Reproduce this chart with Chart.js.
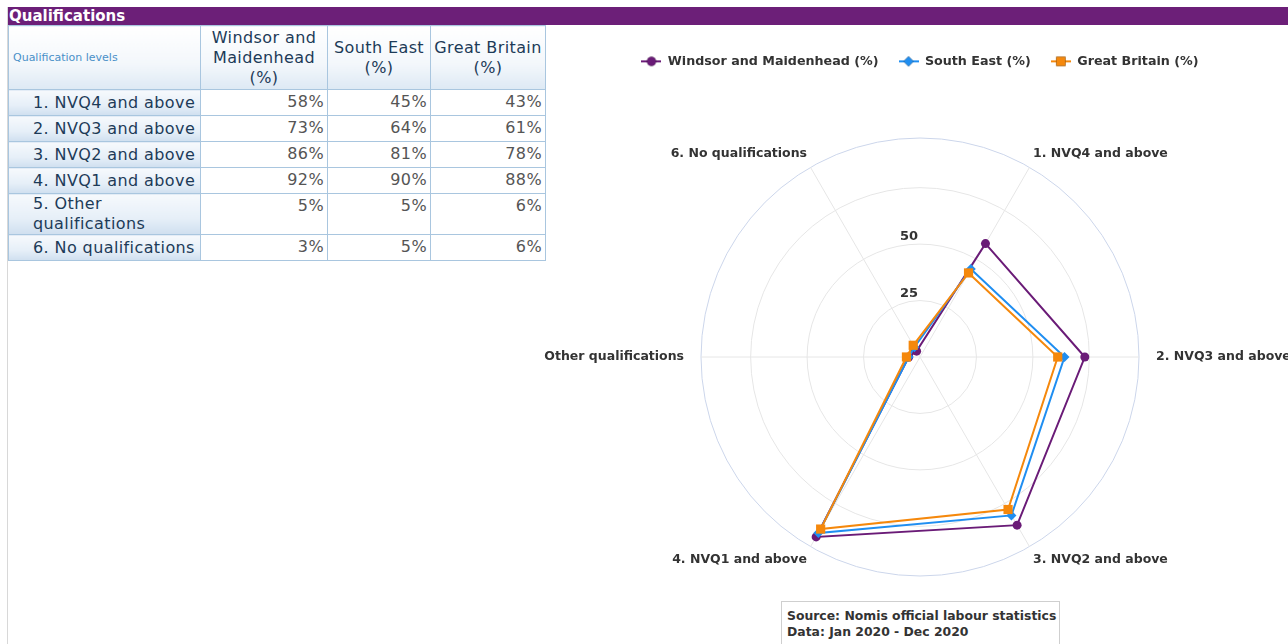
<!DOCTYPE html>
<html lang="en">
<head>
    <meta charset="UTF-8">
    <title>Qualifications</title>
    <script src="https://cdn.jsdelivr.net/npm/chart.js@4/dist/chart.umd.min.js"></script>
    <style>
        html, body { margin: 0; padding: 0; background: #fff; overflow: hidden; width: 1288px; height: 644px; }
        body { font-family: "DejaVu Sans", Verdana, sans-serif; position: relative; }

        .panel { position: absolute; left: 7px; top: 7px; width: 1281px; height: 660px; border-left: 1px solid #d8d8d8; }
        .bar {
            position: absolute; left: 8px; top: 7px; width: 1280px; height: 18px;
            background: #6c1f78; color: #fff; font-weight: bold; font-size: 15px; line-height: 18px;
            padding-left: 1px; box-sizing: border-box;
        }

        table.quals {
            position: absolute; left: 8px; top: 25px; border-collapse: collapse;
            font-size: 16px; table-layout: fixed; letter-spacing: 0.4px;
        }
        table.quals th, table.quals td { border: 1px solid #a9c6df; padding: 0; }
        table.quals thead th {
            height: 63px; font-weight: normal; color: #1d3b58; line-height: 20px;
            background: linear-gradient(#ffffff, #f3f7fb 60%, #dde9f4);
        }
        table.quals thead th.first { text-align: left; font-size: 11px; color: #4a90c8; padding-left: 4px; letter-spacing: 0; }
        table.quals tbody th {
            text-align: left; font-weight: normal; color: #1d3b58; padding-left: 24px; line-height: 20px;
            background: linear-gradient(#f6f9fc, #e6eff8 60%, #cfdfef);
            vertical-align: middle;
        }
        table.quals tbody td {
            text-align: right; color: #555; padding-right: 3px; vertical-align: top; padding-top: 2px;
            height: 23px;
        }
        table.quals tbody tr.tall th, table.quals tbody tr.tall td { height: 38px; }

        .chart-box { position: absolute; left: 540px; top: 30px; width: 760px; height: 570px; }

        .credits {
            position: absolute; left: 781px; top: 601px; width: 279px; height: 50px;
            border: 1px solid #cfcfcf; box-sizing: border-box; padding: 6px 0 0 5px; white-space: nowrap;
            font-weight: bold; font-size: 12.4px; line-height: 16px; color: #333;
        }
    </style>
</head>
<body>
    <div class="panel"></div>
    <div class="bar">Qualifications</div>

    <table class="quals" id="quals">
        <colgroup>
            <col style="width:192px"><col style="width:127px"><col style="width:103px"><col style="width:115px">
        </colgroup>
        <thead><tr id="quals-head"></tr></thead>
        <tbody id="quals-body"></tbody>
    </table>

    <div class="chart-box">
        <canvas id="qual-radar"></canvas>
    </div>

    <div class="credits">Source: Nomis official labour statistics<br>Data: Jan 2020 - Dec 2020</div>

    <script>
        // Qualification levels (table rows and radar axes)
        const tableLevels = ['1. NVQ4 and above', '2. NVQ3 and above', '3. NVQ2 and above',
            '4. NVQ1 and above', '5. Other qualifications', '6. No qualifications'];
        const radarLevels = ['1. NVQ4 and above', '2. NVQ3 and above', '3. NVQ2 and above',
            '4. NVQ1 and above', 'Other qualifications', '6. No qualifications'];

        const seriesNames = ['Windsor and Maidenhead (%)', 'South East (%)', 'Great Britain (%)'];
        const windsorValues = [58, 73, 86, 92, 5, 3];
        const southEastValues = [45, 64, 81, 90, 5, 5];
        const greatBritainValues = [43, 61, 78, 88, 6, 6];

        const seriesColors = ['#6a1b77', '#1f8ef1', '#f5880c'];
        const seriesMarkers = ['circle', 'rectRot', 'rect'];
        const markerSizes = [4.5, 5, 6.5];

        // radial axis: rings every 25, outer edge just past the largest value
        const radialTicks = [0, 25, 50];
        const axisMax = 97;

        // ---- table ----
        const headCells = ['Qualification levels', 'Windsor and<br>Maidenhead<br>(%)', 'South East<br>(%)', 'Great Britain<br>(%)'];
        const headRow = document.getElementById('quals-head');
        headCells.forEach((txt, i) => {
            const th = document.createElement('th');
            th.innerHTML = txt;
            if (i === 0) th.className = 'first';
            headRow.appendChild(th);
        });

        const allValues = [windsorValues, southEastValues, greatBritainValues];
        const body = document.getElementById('quals-body');
        tableLevels.forEach((lvl, r) => {
            const tr = document.createElement('tr');
            if (r === 4) tr.className = 'tall';
            const th = document.createElement('th');
            th.textContent = lvl;
            tr.appendChild(th);
            allValues.forEach(vals => {
                const td = document.createElement('td');
                td.textContent = vals[r] + '%';
                tr.appendChild(td);
            });
            body.appendChild(tr);
        });

        // ---- radar ----
        // small line+marker swatch used in the legend
        function legendSymbol(color, marker, size) {
            const c = document.createElement('canvas');
            c.width = 20; c.height = 14;
            const g = c.getContext('2d');
            g.strokeStyle = color; g.lineWidth = 2;
            g.beginPath(); g.moveTo(0, 7); g.lineTo(20, 7); g.stroke();
            Chart.helpers.drawPoint(g, { pointStyle: marker, radius: size, rotation: 0, borderWidth: 0 }, 10, 7);
            g.fillStyle = color;
            g.fill();
            return c;
        }

        // value labels up the vertical, kept upright
        const tickLabelPlugin = {
            id: 'radialTickLabels',
            beforeDatasetsDraw(chart) {
                const scale = chart.scales.r;
                const ctx = chart.ctx;
                ctx.save();
                ctx.font = 'bold 13px "DejaVu Sans"';
                ctx.fillStyle = '#333';
                ctx.textAlign = 'right';
                ctx.textBaseline = 'alphabetic';
                radialTicks.forEach(v => {
                    const d = scale.getDistanceFromCenterForValue(v);
                    ctx.fillText(String(v), scale.xCenter - 2, scale.yCenter - d - 4);
                });
                ctx.restore();
            }
        };

        const legendHeight = {
            id: 'legendHeight',
            beforeInit(chart) {
                const fit = chart.legend.fit;
                chart.legend.fit = function () {
                    fit.bind(chart.legend)();
                    this.height = 103;
                };
            }
        };

        const datasets = allValues.map((vals, i) => ({
            label: seriesNames[i],
            data: vals,
            borderColor: seriesColors[i],
            backgroundColor: seriesColors[i],
            pointBackgroundColor: seriesColors[i],
            pointBorderColor: seriesColors[i],
            pointBorderWidth: 0,
            pointStyle: seriesMarkers[i],
            pointRadius: markerSizes[i],
            borderWidth: 2,
            fill: false,
            order: 3 - i
        }));

        new Chart(document.getElementById('qual-radar'), {
            type: 'radar',
            data: { labels: radarLevels, datasets: datasets },
            options: {
                responsive: true,
                maintainAspectRatio: false,
                animation: false,
                layout: { padding: { top: 5, bottom: 24, left: 0, right: 0 } },
                plugins: {
                    tooltip: { enabled: false },
                    legend: {
                        position: 'top',
                        labels: {
                            usePointStyle: true,
                            pointStyleWidth: 20,
                            padding: 20,
                            color: '#333',
                            font: { family: '"DejaVu Sans"', size: 12.7, weight: 'bold' },
                            generateLabels(chart) {
                                return chart.data.datasets.map((ds, i) => ({
                                    text: ds.label,
                                    datasetIndex: i,
                                    pointStyle: legendSymbol(seriesColors[i], seriesMarkers[i], markerSizes[i]),
                                    fillStyle: seriesColors[i],
                                    strokeStyle: seriesColors[i],
                                    lineWidth: 0,
                                    fontColor: '#333',
                                    hidden: !chart.isDatasetVisible(i)
                                }));
                            }
                        }
                    }
                },
                scales: {
                    r: {
                        min: 0,
                        max: axisMax,
                        startAngle: 30,
                        ticks: { display: false, stepSize: 25 },
                        grid: {
                            circular: true,
                            color: ctx => ctx.tick && ctx.tick.value >= axisMax ? '#ccd6eb' : '#e6e6e6',
                            lineWidth: 1
                        },
                        angleLines: { color: '#e6e6e6', lineWidth: 1 },
                        pointLabels: {
                            // side labels sit further out than the diagonal ones
                            padding: ctx => (ctx.index % 3 === 1 ? 17 : 7),
                            color: '#333',
                            font: { family: '"DejaVu Sans"', size: 12.5, weight: 'bold' }
                        }
                    }
                }
            },
            plugins: [legendHeight, tickLabelPlugin]
        });
    </script>
</body>
</html>
